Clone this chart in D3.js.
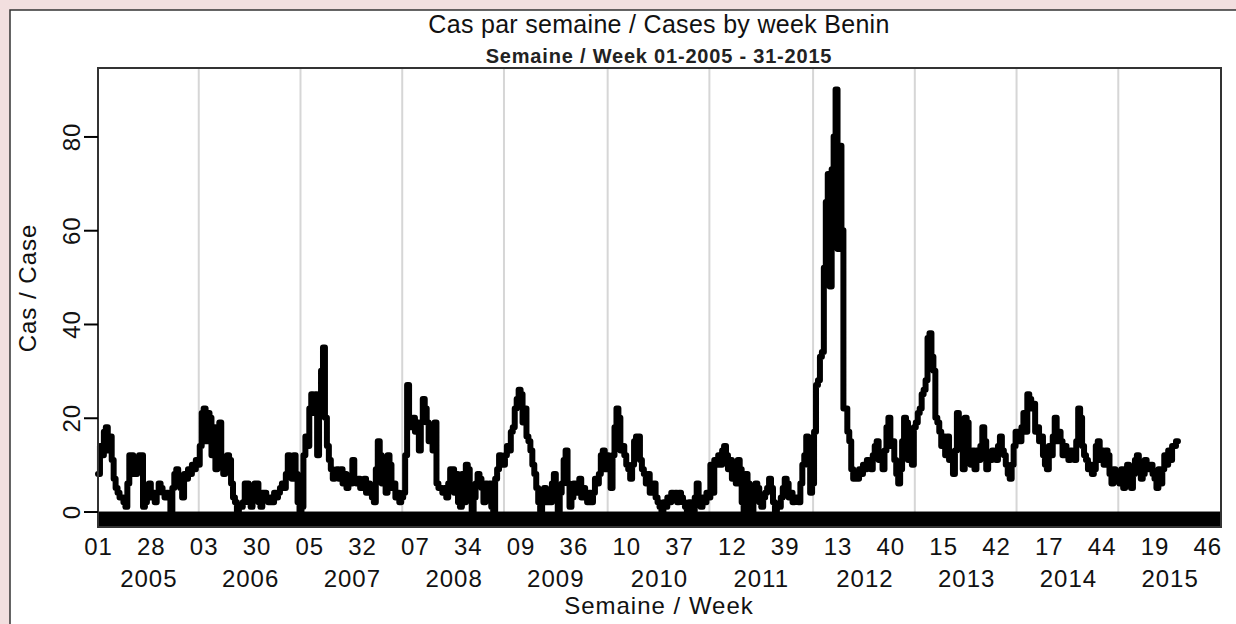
<!DOCTYPE html>
<html><head><meta charset="utf-8">
<script src="https://cdn.jsdelivr.net/npm/d3@7"></script>
<style>
html,body{margin:0;padding:0;background:#f2dfdf;}
svg{display:block;font-family:"Liberation Sans",Arial,sans-serif;}
</style></head>
<body>
<svg id="chart" width="1236" height="624"></svg>
<script>
// Weekly case counts, Benin, week 01-2005 .. week 31-2015
const years = ["2005","2006","2007","2008","2009","2010","2011","2012","2013","2014","2015"];
const w2005 = [8,14,12,17,18,13,16,11,7,5,4,3,3,2,1,6,12,12,8,8,9,12,12,1,2,5,6,3,4,2,4,6,5,4,3,4,3,0,5,8,9,7,5,3,8,7,9,8,10,9,11,10];
const w2006 = [14,21,22,15,21,20,12,18,9,18,19,10,8,10,12,11,6,3,2,0,1,1,2,6,6,2,1,3,6,6,2,1,4,4,3,2,3,2,4,3,4,5,6,5,8,12,11,7,12,8,2,0];
const w2007 = [1,12,16,14,22,25,21,25,12,22,30,35,20,14,11,9,7,8,9,7,9,6,8,5,6,6,11,7,6,7,5,6,7,4,6,5,3,2,9,15,12,6,7,4,12,10,5,6,3,4,2,3];
const w2008 = [4,12,27,19,18,20,17,19,13,19,24,22,19,15,18,13,19,6,5,5,4,5,3,6,9,9,4,8,2,1,8,2,10,9,4,0,3,6,8,7,5,2,6,5,6,1,0,7,9,12,11,10];
const w2009 = [12,14,13,17,18,22,24,26,25,19,22,16,15,13,10,8,5,2,0,3,5,2,4,2,6,8,3,0,4,6,11,13,6,1,3,6,4,6,7,3,5,3,2,4,2,4,7,6,8,12,13,9,12];
const w2010 = [11,5,12,18,22,20,13,14,12,10,9,7,10,15,16,16,11,9,8,6,8,4,5,6,3,2,1,0,2,1,3,2,4,3,4,2,4,3,2,1,0,2,1,0,3,6,2,1,3,2,4,3];
const w2011 = [10,4,11,10,12,10,13,14,12,9,11,7,8,6,11,9,2,0,8,6,2,0,3,6,5,2,1,3,4,5,7,5,2,0,1,1,3,5,7,6,3,4,2,3,3,2,6,10,12,16,10,4,6];
const w2012 = [17,27,28,33,34,52,66,72,48,73,80,90,56,78,60,22,22,17,15,9,7,8,7,9,8,10,9,11,10,9,12,14,15,11,12,9,13,18,20,14,15,11,8,6,9,15,20,19,11,12,10,18];
const w2013 = [19,21,22,25,26,28,37,38,33,30,20,19,17,14,16,12,16,11,12,8,13,21,19,14,9,20,19,12,10,13,9,13,11,14,18,15,9,12,11,13,12,11,14,16,13,12,10,8,7,10,14,17];
const w2014 = [17,15,18,21,17,25,24,22,23,17,18,15,16,12,10,9,14,12,16,20,15,17,15,12,14,13,11,13,12,11,15,22,20,14,12,11,9,10,8,9,14,15,11,13,10,13,12,8,6,9,7,8];
const w2015 = [6,9,5,8,10,6,5,8,11,12,9,7,8,11,10,9,10,8,7,5,9,6,9,12,10,13,11,14,14,15,15];
const weekSeries = [w2005,w2006,w2007,w2008,w2009,w2010,w2011,w2012,w2013,w2014,w2015];
const weekTickLabels = ["01","28","03","30","05","32","07","34","09","36","10","37","12","39","13","40","15","42","17","44","19","46"];
const yTicks = [0,20,40,60,80];

const titleText = "Cas par semaine / Cases by week Benin";
const subtitleText = "Semaine / Week 01-2005 - 31-2015";
const xTitle = "Semaine / Week";
const yTitle = "Cas / Case";

(function(){
const data = [];
const yearStarts = [];
weekSeries.forEach((arr) => {
  yearStarts.push(data.length);
  arr.forEach(v => data.push({i: data.length, v}));
});

const svg = d3.select("#chart");
const pL = 98, pR = 1221, pT = 68, pB = 527;
const axisFont = 24, axisLS = "1px";

svg.append("rect").attr("x",10).attr("y",10).attr("width",1240).attr("height",630)
  .attr("fill","#fff").attr("stroke","#333").attr("stroke-width",1.5);

const x = d3.scaleLinear().domain([0,574]).range([pL,pR]);
const y = d3.scaleLinear().domain([-3.3,94.6]).range([pB,pT]);

svg.append("g").selectAll("line").data(yearStarts.slice(1)).join("line")
  .attr("x1",d=>x(d-0.5)).attr("x2",d=>x(d-0.5))
  .attr("y1",pT).attr("y2",pB)
  .attr("stroke","#d6d6d6").attr("stroke-width",2);

svg.append("rect").attr("x",pL).attr("y",y(0)).attr("width",pR-pL).attr("height",pB-y(0))
  .attr("fill","#000");

const line = d3.line().x(d=>x(d.i)).y(d=>y(d.v)).curve(d3.curveStepAfter);
svg.append("path").datum(data).attr("d",line)
  .attr("fill","none").attr("stroke","#000").attr("stroke-width",6)
  .attr("stroke-linejoin","round").attr("stroke-linecap","round");

svg.append("rect").attr("x",pL).attr("y",pT).attr("width",pR-pL).attr("height",pB-pT)
  .attr("fill","none").attr("stroke","#333").attr("stroke-width",2);

const yAxis = d3.axisLeft(y).tickValues(yTicks).tickSize(14).tickPadding(4).tickFormat(d3.format("d"));
const ya = svg.append("g").attr("transform",`translate(${pL},0)`).call(yAxis);
ya.select(".domain").remove();
ya.selectAll(".tick line").attr("stroke","#000").attr("stroke-width",2);
ya.selectAll(".tick text").attr("font-size",axisFont).attr("letter-spacing",axisLS).attr("fill","#111")
  .attr("transform","rotate(-90)")
  .attr("x",0).attr("y",-18).attr("dy",0).attr("text-anchor","middle");

const tickIdx = weekTickLabels.map((l,k)=>k*27);
const xAxis = d3.axisBottom(x).tickValues(tickIdx).tickSize(0).tickPadding(0)
  .tickFormat((d,k)=>weekTickLabels[k]);
const xa = svg.append("g").attr("transform",`translate(0,${pB})`).call(xAxis);
xa.select(".domain").remove();
xa.selectAll(".tick text").attr("font-size",axisFont).attr("letter-spacing",axisLS).attr("fill","#111").attr("dy",0).attr("y",28);

svg.append("g").selectAll("text").data(years).join("text")
  .attr("x",(d,k)=>x(yearStarts[k]+26)).attr("y",587)
  .attr("text-anchor","middle").attr("font-size",axisFont).attr("letter-spacing",axisLS).attr("fill","#111").text(d=>d);

svg.append("text").attr("x",659).attr("y",33).attr("text-anchor","middle")
  .attr("font-size",25).attr("letter-spacing","0.3px").attr("fill","#111").text(titleText);
svg.append("text").attr("x",659).attr("y",63).attr("text-anchor","middle")
  .attr("font-size",20).attr("font-weight","bold").attr("letter-spacing","0.8px").attr("fill","#222").text(subtitleText);
svg.append("text").attr("x",659).attr("y",614).attr("text-anchor","middle")
  .attr("font-size",axisFont).attr("letter-spacing",axisLS).attr("fill","#111").text(xTitle);
svg.append("text").attr("transform","translate(36,288) rotate(-90)").attr("text-anchor","middle")
  .attr("font-size",axisFont).attr("letter-spacing",axisLS).attr("fill","#111").text(yTitle);
})();
</script>
</body></html>
